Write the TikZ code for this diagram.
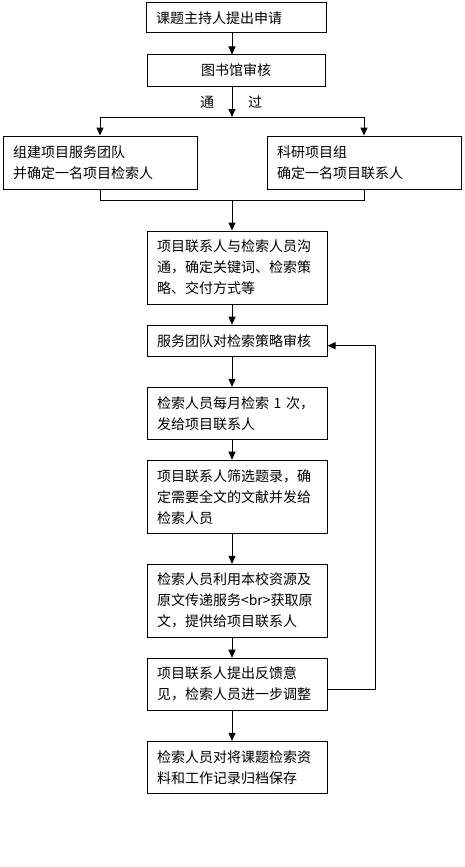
\documentclass[tikz,border=0pt]{standalone}
\usepackage{fontspec}
\newfontfamily\cjk{Noto Sans CJK SC}
\usetikzlibrary{arrows.meta, positioning}
\tikzset{
  stepbox/.style={
    rectangle, draw=black, line width=1pt, inner xsep=10pt, inner ysep=0pt,
    align=left, font=\cjk\fontsize{14pt}{21pt}\selectfont
  },
  mainbox/.style={stepbox, text width=160pt},
  sidebox/.style={stepbox, text width=174pt, minimum height=53pt},
  arrow/.style={
    -{Triangle[length=8pt,width=7pt]}, line width=1pt
  }
}

\begin{document}
\begin{tikzpicture}[x=1pt, y=-1pt,
  lbl/.style={font=\cjk\fontsize{14pt}{16pt}\selectfont, inner sep=0pt}
]
\useasboundingbox (0,0) rectangle (465,867);

\node[mainbox, minimum height=30pt] (apply) at (236,18) {课题主持人提出申请};
\node[stepbox, align=center, minimum width=178pt, minimum height=31pt] (review) at (236,70.5) {图书馆审核};

\coordinate (split) at (232,117);
\coordinate (join) at (232,200);

\node[lbl] (pass1) at (207,102) {通};
\node[lbl] (pass2) at (255,102) {过};

\node[sidebox] (team) at (100,162.5) {组建项目服务团队\\并确定一名项目检索人};
\node[sidebox] (group) at (364,162.5) {科研项目组\\确定一名项目联系人};

\node[mainbox, minimum height=73pt] (talk) at (237,267.5) {项目联系人与检索人员沟\\通，确定关键词、检索策\\略、交付方式等};
\node[mainbox, minimum height=31pt] (check) at (237,340.7) {服务团队对检索策略审核};
\node[mainbox, minimum height=52pt] (search) at (237,413.3) {检索人员每月检索 1 次，\\发给项目联系人};
\node[mainbox, minimum height=73pt] (select) at (237,496.7) {项目联系人筛选题录，确\\定需要全文的文献并发给\\检索人员};
\node[mainbox, minimum height=73pt] (fetch) at (237,600.8) {检索人员利用本校资源及\\原文传递服务<br>获取原\\文，提供给项目联系人};
\node[mainbox, minimum height=52pt] (feedback) at (237,684.2) {项目联系人提出反馈意\\见，检索人员进一步调整};
\node[mainbox, minimum height=52pt] (archive) at (237,767.3) {检索人员对将课题检索资\\料和工作记录归档保存};

\draw[arrow] (apply.south -| split) -- (review.north -| split);
\draw[arrow] (review.south -| split) -- (split);
\draw[arrow] (split) -| (team.north);
\draw[arrow] (split) -| (group.north);
\draw[line width=1pt] (team.south) |- (join);
\draw[line width=1pt] (group.south) |- (join);
\draw[arrow] (join) -- (talk.north -| join);
\draw[arrow] (talk.south -| split) -- (check.north -| split);
\draw[arrow] (check.south -| split) -- (search.north -| split);
\draw[arrow] (search.south -| split) -- (select.north -| split);
\draw[arrow] (select.south -| split) -- (fetch.north -| split);
\draw[arrow] (fetch.south -| split) -- (feedback.north -| split);
\draw[arrow] (feedback.south -| split) -- (archive.north -| split);
\draw[arrow] ([yshift=-5pt]feedback.east) -- ++(48,0) |- ([yshift=-5pt]check.east);

\end{tikzpicture}
\end{document}
